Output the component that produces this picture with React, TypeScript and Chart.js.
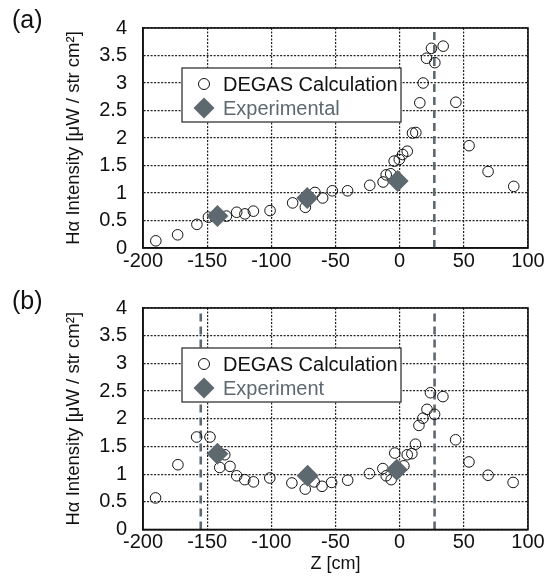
import React, { useEffect, useRef } from "react";
import { Chart, registerables } from "chart.js";

Chart.register(...registerables);

// ---- data ----
const xTickValues = [-200, -150, -100, -50, 0, 50, 100];
const yTickValues = [0, 0.5, 1, 1.5, 2, 2.5, 3, 3.5, 4];

// (a) DEGAS calculation
const degasAZ = [-190, -173, -158, -149, -135, -127, -120.6, -114, -101, -83.4, -73.5, -66, -60, -52.5, -40.6, -23.3, -12.9, -10.5, -7, -4.3, -0.3, 2.3, 5.9, 10, 12.6, 15.7, 18.3, 20.9, 24.8, 27.4, 33.9, 43.8, 54.1, 68.9, 88.9];
const degasAI = [0.13, 0.24, 0.43, 0.56, 0.58, 0.65, 0.62, 0.67, 0.68, 0.82, 0.74, 1.01, 0.91, 1.04, 1.04, 1.14, 1.2, 1.33, 1.35, 1.58, 1.61, 1.7, 1.76, 2.09, 2.1, 2.64, 3.0, 3.45, 3.63, 3.37, 3.67, 2.65, 1.86, 1.39, 1.12];
// (a) Experimental
const expAZ = [-142, -72, -1.6];
const expAI = [0.58, 0.91, 1.22];
// (a) dashed marker positions
const dashedAZ = [27];

// (b) DEGAS calculation
const degasBZ = [-190.2, -172.8, -158.2, -147.8, -136.3, -140.2, -132.2, -127, -120.7, -113.9, -101.2, -84, -73.6, -66.6, -60.5, -53, -40.5, -23.6, -13.1, -10.5, -6.6, -3.8, 3.3, 5.9, 9.5, 12.3, 15, 18.1, 21.3, 24, 27.2, 33.7, 43.6, 54, 68.9, 88.4];
const degasBI = [0.57, 1.17, 1.67, 1.67, 1.35, 1.12, 1.14, 0.97, 0.9, 0.86, 0.93, 0.84, 0.73, 0.86, 0.78, 0.85, 0.89, 1.01, 1.1, 0.97, 0.9, 1.38, 1.15, 1.35, 1.37, 1.54, 1.88, 2.01, 2.17, 2.47, 2.08, 2.4, 1.62, 1.22, 0.98, 0.85];
// (b) Experiment
const expBZ = [-142, -71.7, -2.2];
const expBI = [1.37, 0.97, 1.08];
// (b) dashed marker positions
const dashedBZ = [-155, 27.2];

const legendLabelA = ["DEGAS Calculation", "Experimental"];
const legendLabelB = ["DEGAS Calculation", "Experiment"];

// ---- styles ----
const GREY = "#5d686f";
const FONT = "'Liberation Sans', Arial, sans-serif";

function pts(xs: number[], ys: number[]) {
  return xs.map((x, i) => ({ x, y: ys[i] }));
}

const framePlugin = {
  id: "frameAndLegend",
  afterDatasetsDraw(chart: any, _args: any, opts: any) {
    const { ctx, chartArea } = chart;
    ctx.save();
    ctx.strokeStyle = "#111";
    ctx.lineWidth = 1.6;
    ctx.setLineDash([]);
    ctx.strokeRect(chartArea.left, chartArea.top, chartArea.right - chartArea.left, chartArea.bottom - chartArea.top);

    // legend box
    const bx = chartArea.left + 39;
    const by = chartArea.top + 40;
    const bw = 219;
    const bh = 54;
    ctx.fillStyle = "#fff";
    ctx.fillRect(bx, by, bw, bh);
    ctx.strokeStyle = "#333";
    ctx.lineWidth = 1.3;
    ctx.strokeRect(bx, by, bw, bh);

    const labels: string[] = opts.labels || [];
    const mx = bx + 22;
    const r1 = by + 16;
    const r2 = by + 40;
    // circle
    ctx.beginPath();
    ctx.arc(mx, r1, 5.5, 0, Math.PI * 2);
    ctx.strokeStyle = "#111";
    ctx.lineWidth = 1;
    ctx.stroke();
    // diamond
    ctx.beginPath();
    ctx.moveTo(mx - 10.5, r2);
    ctx.lineTo(mx, r2 - 10.5);
    ctx.lineTo(mx + 10.5, r2);
    ctx.lineTo(mx, r2 + 10.5);
    ctx.closePath();
    ctx.fillStyle = GREY;
    ctx.fill();

    ctx.font = "20px " + FONT;
    ctx.textBaseline = "middle";
    ctx.textAlign = "left";
    ctx.fillStyle = "#111";
    ctx.fillText(labels[0] || "", bx + 41, r1 + 1);
    ctx.fillStyle = GREY;
    ctx.fillText(labels[1] || "", bx + 41, r2 + 1);
    ctx.restore();
  },
};

function makeConfig(
  degZ: number[],
  degI: number[],
  expZ: number[],
  expI: number[],
  dashed: number[],
  labels: string[],
  xAxisHeight: number,
  showXTitle: boolean
): any {
  const dashedSets = dashed.map((z) => ({
    label: "marker",
    data: [
      { x: z, y: yTickValues[0] },
      { x: z, y: yTickValues[yTickValues.length - 1] },
    ],
    showLine: true,
    pointRadius: 0,
    borderColor: GREY,
    borderWidth: 2.6,
    borderDash: [8, 5],
    order: 3,
  }));
  return {
    type: "scatter",
    data: {
      datasets: [
        {
          label: labels[1],
          data: pts(expZ, expI),
          pointStyle: "rectRot",
          pointRadius: 11,
          backgroundColor: GREY,
          borderColor: GREY,
          borderWidth: 0,
          order: 1,
        },
        {
          label: labels[0],
          data: pts(degZ, degI),
          pointStyle: "circle",
          pointRadius: 5.3,
          backgroundColor: "rgba(0,0,0,0)",
          borderColor: "#111",
          borderWidth: 1,
          order: 2,
        },
        ...dashedSets,
      ],
    },
    options: {
      responsive: false,
      animation: false,
      layout: { padding: { top: 24, right: 24, left: 0, bottom: 0 } },
      plugins: {
        legend: { display: false },
        tooltip: { enabled: false },
        frameAndLegend: { labels },
      },
      scales: {
        x: {
          type: "linear",
          min: xTickValues[0],
          max: xTickValues[xTickValues.length - 1],
          afterBuildTicks: (scale: any) => {
            scale.ticks = xTickValues.map((v) => ({ value: v }));
          },
          afterFit: (scale: any) => {
            scale.height = xAxisHeight;
          },
          ticks: {
            padding: 1,
            color: "#111",
            font: { size: 20, family: FONT },
            maxRotation: 0,
            callback: (v: any) => String(v),
          },
          grid: { color: "#222", lineWidth: 1.2, drawTicks: false },
          border: { color: "#111", width: 1.6, dash: [2, 1.5] },
          title: {
            display: showXTitle,
            text: "Z [cm]",
            color: "#111",
            font: { size: 18, family: FONT },
            padding: { top: 0, bottom: 1 },
          },
        },
        y: {
          type: "linear",
          min: yTickValues[0],
          max: yTickValues[yTickValues.length - 1],
          afterBuildTicks: (scale: any) => {
            scale.ticks = yTickValues.map((v) => ({ value: v }));
          },
          afterFit: (scale: any) => {
            scale.width = 143;
          },
          ticks: {
            padding: 16,
            color: "#111",
            font: { size: 20, family: FONT },
            callback: (v: any) => String(v),
          },
          grid: { color: "#222", lineWidth: 1.2, drawTicks: false },
          border: { color: "#111", width: 1.6, dash: [2, 1.5] },
          title: {
            display: true,
            text: "H\u03b1 Intensity [\u03bcW / str cm\u00b2]",
            color: "#111",
            font: { size: 18.5, family: FONT },
            padding: { top: 63, bottom: 0 },
          },
        },
      },
    },
    plugins: [framePlugin],
  };
}

function Panel(props: { config: any; width: number; height: number }) {
  const ref = useRef<HTMLCanvasElement | null>(null);
  useEffect(() => {
    if (!ref.current) return;
    const chart = new Chart(ref.current, props.config);
    return () => chart.destroy();
  }, []);
  return <canvas ref={ref} width={props.width} height={props.height} style={{ display: "block" }} />;
}

export default function App() {
  const cfgA = makeConfig(degasAZ, degasAI, expAZ, expAI, dashedAZ, legendLabelA, 32, false);
  const cfgB = makeConfig(degasBZ, degasBI, expBZ, expBI, dashedBZ, legendLabelB, 46.5, true);
  const labelStyle: React.CSSProperties = {
    position: "absolute",
    left: 12,
    fontFamily: FONT,
    fontSize: 25,
    color: "#111",
    lineHeight: "28px",
  };
  return (
    <div style={{ position: "fixed", left: 0, top: 0, width: 552, height: 576, background: "#fff" }}>
      <div style={{ position: "absolute", left: 0, top: 0 }}>
        <Panel config={cfgA} width={552} height={280} />
      </div>
      <div style={{ position: "absolute", left: 0, top: 280 }}>
        <Panel config={cfgB} width={552} height={296} />
      </div>
      <div style={{ ...labelStyle, top: 5 }}>(a)</div>
      <div style={{ ...labelStyle, top: 286 }}>(b)</div>
    </div>
  );
}
